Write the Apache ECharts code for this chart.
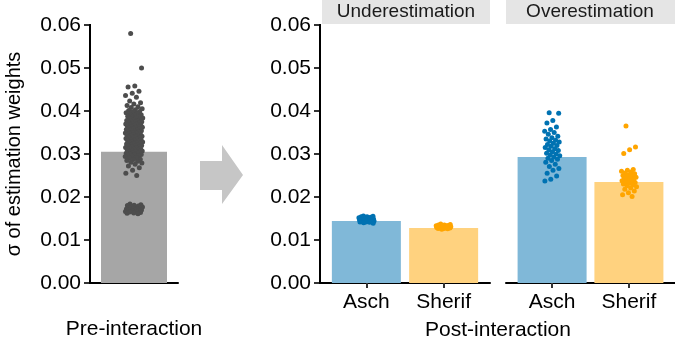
<!DOCTYPE html>
<html>
<head>
<meta charset="utf-8">
<script src="https://cdn.jsdelivr.net/npm/echarts@6/dist/echarts.min.js"></script>
<style>
  html, body { margin: 0; padding: 0; background: #fff; }
  #main { width: 675px; height: 345px; }
</style>
</head>
<body>
<div id="main"></div>
<script>
// bar heights (mean sd of estimation weights)
var preMean = 0.0305;
var groups = ['Asch', 'Sherif'];
var underMeans = [0.0144, 0.0128];
var overMeans = [0.0293, 0.0235];
var yTicks = [0, 0.01, 0.02, 0.03, 0.04, 0.05, 0.06];

// individual points
var prePoints = [
  0.0580, 0.0500, 0.0458, 0.0456, 0.0446, 0.0441, 0.0436, 0.0432,
  0.0423, 0.0419, 0.0416, 0.0413, 0.0410, 0.0408, 0.0405, 0.0403, 0.0401, 0.0399,
  0.0398, 0.0396, 0.0394, 0.0393, 0.0391, 0.0390, 0.0388, 0.0387, 0.0386, 0.0384,
  0.0383, 0.0382, 0.0380, 0.0379, 0.0378, 0.0377, 0.0376, 0.0375, 0.0374, 0.0373,
  0.0372, 0.0371, 0.0370, 0.0369, 0.0368, 0.0367, 0.0366, 0.0365, 0.0364, 0.0363,
  0.0362, 0.0361, 0.0360, 0.0359, 0.0358, 0.0357, 0.0356, 0.0355, 0.0354, 0.0353,
  0.0352, 0.0351, 0.0350, 0.0349, 0.0348, 0.0347, 0.0346, 0.0345, 0.0344, 0.0343,
  0.0342, 0.0341, 0.0340, 0.0339, 0.0338, 0.0337, 0.0336, 0.0335, 0.0334, 0.0333,
  0.0332, 0.0331, 0.0330, 0.0329, 0.0328, 0.0327, 0.0326, 0.0325, 0.0324, 0.0323,
  0.0322, 0.0321, 0.0320, 0.0319, 0.0318, 0.0317, 0.0316, 0.0315, 0.0314, 0.0313,
  0.0312, 0.0311, 0.0310, 0.0309, 0.0308, 0.0307, 0.0306, 0.0305, 0.0304, 0.0303,
  0.0302, 0.0301, 0.0300, 0.0299, 0.0298, 0.0297, 0.0296, 0.0295, 0.0294, 0.0292,
  0.0290, 0.0288, 0.0287, 0.0285, 0.0283, 0.0281, 0.0279, 0.0276, 0.0272, 0.0268,
  0.0262, 0.0255, 0.0250,
  0.0184, 0.0182, 0.0181, 0.0180, 0.0179, 0.0178, 0.0177, 0.0176, 0.0175, 0.0174,
  0.0173, 0.0172, 0.0172, 0.0171, 0.0170, 0.0170, 0.0169, 0.0168, 0.0167, 0.0166,
  0.0166, 0.0165, 0.0164, 0.0163, 0.0162, 0.0161
];
var underAsch = [
  0.0156, 0.0155, 0.0154, 0.0154, 0.0153, 0.0153, 0.0152, 0.0152, 0.0151, 0.0151,
  0.0150, 0.0150, 0.0150, 0.0149, 0.0149, 0.0149, 0.0148, 0.0148, 0.0148, 0.0147,
  0.0147, 0.0147, 0.0146, 0.0146, 0.0146, 0.0145, 0.0145, 0.0144, 0.0144, 0.0143,
  0.0143, 0.0142, 0.0142, 0.0141, 0.0140, 0.0139
];
var underSherif = [
  0.0137, 0.0136, 0.0135, 0.0135, 0.0134, 0.0134, 0.0133, 0.0133, 0.0133, 0.0132,
  0.0132, 0.0132, 0.0131, 0.0131, 0.0131, 0.0130, 0.0130, 0.0130, 0.0129, 0.0129,
  0.0129, 0.0128, 0.0128, 0.0127, 0.0127, 0.0126, 0.0125
];
var overAsch = [
  0.0396, 0.0395, 0.0378, 0.0372, 0.0363, 0.0357, 0.0353, 0.0350, 0.0346, 0.0341,
  0.0338, 0.0335, 0.0332, 0.0330, 0.0328, 0.0325, 0.0322, 0.0320, 0.0318, 0.0315,
  0.0312, 0.0310, 0.0308, 0.0305, 0.0302, 0.0300, 0.0298, 0.0296, 0.0293, 0.0290,
  0.0288, 0.0285, 0.0281, 0.0276, 0.0271, 0.0266, 0.0262, 0.0255, 0.0249, 0.0241,
  0.0237
];
var overSherif = [
  0.0365, 0.0316, 0.0310, 0.0301, 0.0264, 0.0262, 0.0260, 0.0258, 0.0256, 0.0254,
  0.0252, 0.0250, 0.0249, 0.0247, 0.0246, 0.0244, 0.0243, 0.0241, 0.0240, 0.0238,
  0.0237, 0.0235, 0.0234, 0.0232, 0.0230, 0.0228, 0.0226, 0.0224, 0.0221, 0.0218,
  0.0214, 0.0210, 0.0205, 0.0201
];

var FONT = 'Liberation Sans';
var TOP = 25, BOTTOM = 283;   // plot area top / x-axis line (px)
var chart = echarts.init(document.getElementById('main'), null, { renderer: 'canvas' });

// spread points sideways around their group centre (layout only)
function jitter(vals, center, w) {
  return vals.map(function (v, i) {
    var f = (i * 0.6180339887 + 0.31) % 1;
    return [center + (f - 0.5) * 2 * w, v];
  });
}

function yAxisCfg(idx, show, name) {
  return {
    type: 'value', gridIndex: idx, min: 0, max: 0.06, interval: 0.01,
    name: name || '', nameLocation: 'middle', nameGap: 66,
    nameTextStyle: { fontFamily: FONT, fontSize: 20, color: '#000' },
    axisLine: { show: show, onZero: false, lineStyle: { color: '#000', width: 2 } },
    axisTick: { show: show, length: 5, lineStyle: { color: '#333', width: 2 } },
    axisLabel: {
      show: show, margin: 9, fontFamily: FONT, fontSize: 21, color: '#000',
      formatter: function (v) { return v.toFixed(2); }
    },
    splitLine: { show: false }
  };
}

function xAxisCfg(idx, max, labels) {
  return {
    type: 'value', gridIndex: idx, min: 0.4, max: max,
    axisLine: { show: true, onZero: false, lineStyle: { color: '#000', width: 2 } },
    axisTick: {
      show: !!labels, length: 5, customValues: [1, 2],
      lineStyle: { color: '#333', width: 2 }
    },
    axisLabel: {
      show: !!labels, customValues: [1, 2], margin: 9,
      fontFamily: FONT, fontSize: 21, color: '#000',
      formatter: function (v) { return labels ? labels[Math.round(v) - 1] : ''; }
    },
    splitLine: { show: false }
  };
}

function barSeries(idx, means, colors, width) {
  return {
    type: 'bar', xAxisIndex: idx, yAxisIndex: idx, barWidth: width,
    data: means.map(function (m, i) {
      return { value: [i + 1, m], itemStyle: { color: colors[i] } };
    }),
    silent: true, z: 2
  };
}

function dotSeries(idx, pts, color) {
  return {
    type: 'scatter', xAxisIndex: idx, yAxisIndex: idx, symbolSize: 5,
    itemStyle: { color: color, opacity: 1 }, data: pts, silent: true, z: 3
  };
}

var decorations = [
  // facet strips
  { type: 'rect', shape: { x: 322, y: 0, width: 168, height: 24 }, style: { fill: '#e5e5e5' } },
  { type: 'text', x: 406, y: 12, style: { text: 'Underestimation', fontFamily: FONT, fontSize: 19, fill: '#1a1a1a', align: 'center', verticalAlign: 'middle' } },
  { type: 'rect', shape: { x: 506, y: 0, width: 169, height: 24 }, style: { fill: '#e5e5e5' } },
  { type: 'text', x: 590, y: 12, style: { text: 'Overestimation', fontFamily: FONT, fontSize: 19, fill: '#1a1a1a', align: 'center', verticalAlign: 'middle' } },
  // arrow between panels
  { type: 'polygon', shape: { points: [[200, 161], [222, 161], [222, 145], [243, 175], [222, 204], [222, 190], [200, 190]] }, style: { fill: '#c6c6c6' } },
  // shared x title for the right panels
  { type: 'text', x: 498, y: 330, style: { text: 'Post-interaction', fontFamily: FONT, fontSize: 21, fill: '#000', align: 'center', verticalAlign: 'middle' } }
];

// y axis spine + ticks, on their own canvas layer so nothing paints over them
[90, 320].forEach(function (x) {
  decorations.push({ type: 'rect', zlevel: 1, z: 10, shape: { x: x - 1, y: TOP - 1, width: 2, height: BOTTOM - TOP + 2 }, style: { fill: '#000' } });
  yTicks.forEach(function (t) {
    var y = Math.round(BOTTOM - (t / yTicks[yTicks.length - 1]) * (BOTTOM - TOP));
    decorations.push({ type: 'rect', zlevel: 1, z: 10, shape: { x: x - 6, y: y - 1, width: 5, height: 2 }, style: { fill: '#333' } });
  });
});

var option = {
  animation: false,
  grid: [
    { left: 90, width: 88, top: TOP, bottom: 345 - BOTTOM, outerBoundsMode: 'none' },
    { left: 320, width: 170, top: TOP, bottom: 345 - BOTTOM, outerBoundsMode: 'none' },
    { left: 506, width: 169, top: TOP, bottom: 345 - BOTTOM, outerBoundsMode: 'none' }
  ],
  xAxis: [
    Object.assign(xAxisCfg(0, 1.6, null), {
      name: 'Pre-interaction', nameLocation: 'middle', nameGap: 36,
      nameTextStyle: { fontFamily: FONT, fontSize: 21, color: '#000' }
    }),
    xAxisCfg(1, 2.6, groups),
    xAxisCfg(2, 2.6, groups)
  ],
  yAxis: [
    yAxisCfg(0, true, 'σ of estimation weights'),
    yAxisCfg(1, true),
    yAxisCfg(2, false)
  ],
  series: [
    barSeries(0, [preMean], ['#a6a6a6'], 66),
    dotSeries(0, jitter(prePoints, 1, 0.12), '#4d4d4d'),
    barSeries(1, underMeans, ['#80b8d8', '#ffd27f'], 69),
    dotSeries(1, jitter(underAsch, 1, 0.1), '#0072b2'),
    dotSeries(1, jitter(underSherif, 2, 0.1), '#ffa500'),
    barSeries(2, overMeans, ['#80b8d8', '#ffd27f'], 69),
    dotSeries(2, jitter(overAsch, 1, 0.1), '#0072b2'),
    dotSeries(2, jitter(overSherif, 2, 0.1), '#ffa500')
  ],
  graphic: decorations
};

chart.setOption(option);
</script>
</body>
</html>
